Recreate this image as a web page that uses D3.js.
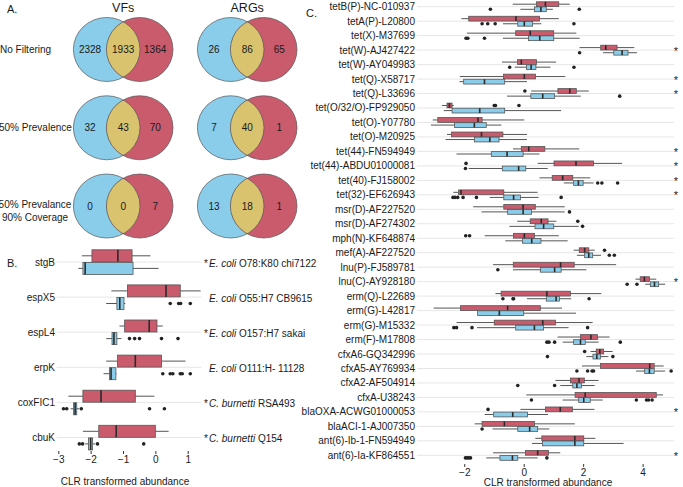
<!DOCTYPE html>
<html>
<head>
<meta charset="utf-8">
<script src="https://cdn.jsdelivr.net/npm/d3@7"></script>
<style>
body { margin: 0; background: #fff; }
text { font-family: "Liberation Sans", Arial, sans-serif; fill: #1a1a1a; }
</style>
</head>
<body>
<div id="chart"></div>
<script>
// ---- panel A: venn counts [left only, shared, right only]
const vennSets = ["VFs", "ARGs"];
const vennRowLabels = [["No Filtering"], ["50% Prevalence"], ["50% Prevalance", "90% Coverage"]];
const vfCounts = [[2328, 1933, 1364], [32, 43, 70], [0, 0, 7]];
const argCounts = [[26, 86, 65], [7, 40, 1], [13, 18, 1]];

// ---- panel B: virulence factors, stats = [lower whisker, q1, median, q3, upper whisker]
const vfGenes = ["stgB", "espX5", "espL4", "erpK", "coxFIC1", "cbuK"];
const vfSpecies = ["E. coli", "E. coli", "E. coli", "E. coli", "C. burnetti", "C. burnetti"];
const vfStrain = ["O78:K80 chi7122", "O55:H7 CB9615", "O157:H7 sakai", "O111:H- 11128", "RSA493", "Q154"];
const vfStar = [true, false, true, false, true, true];
const vfRed = [
  [-2.27, -1.96, -1.16, -0.72, -0.15],
  [-1.36, -0.86, 0.33, 0.77, 1.40],
  [-1.11, -0.95, -0.19, 0.05, 0.23],
  [-1.52, -1.17, -0.62, 0.19, 0.93],
  [-2.69, -2.24, -1.68, -0.62, -0.03],
  [-2.24, -1.75, -1.21, 0.00, 0.41]
];
const vfBlue = [
  [-2.38, -2.24, -2.17, -0.69, 0.10],
  [-1.52, -1.19, -1.10, -0.97, -0.93],
  [-1.52, -1.34, -1.28, -1.19, -1.05],
  [-1.60, -1.42, -1.37, -1.22, -1.20],
  [-2.62, -2.53, -2.48, -2.43, -2.36],
  [-2.17, -2.07, -2.00, -1.94, -1.86]
];
const vfRedOut = [[], [], [], [], [], []];
const vfBlueOut = [
  [],
  [0.46, 0.72, 0.78, 1.08],
  [-0.80, -0.64, -0.49, 0.19, 0.70],
  [0.23, 0.46, 0.54, 0.77, 0.83, 1.08],
  [-2.84, -2.74, -2.29, -0.18, 0.28],
  [-2.35, -2.25, -1.79, -0.36]
];
const vfTicks = [-3, -2, -1, 0, 1];

// ---- panel C: antibiotic resistance genes
const argGenes = ["tetB(P)-NC-010937", "tetA(P)-L20800", "tet(X)-M37699", "tet(W)-AJ427422",
  "tet(W)-AY049983", "tet(Q)-X58717", "tet(Q)-L33696", "tet(O/32/O)-FP929050", "tet(O)-Y07780",
  "tet(O)-M20925", "tet(44)-FN594949", "tet(44)-ABDU01000081", "tet(40)-FJ158002", "tet(32)-EF626943",
  "msr(D)-AF227520", "msr(D)-AF274302", "mph(N)-KF648874", "mef(A)-AF227520", "lnu(P)-FJ589781",
  "lnu(C)-AY928180", "erm(Q)-L22689", "erm(G)-L42817", "erm(G)-M15332", "erm(F)-M17808",
  "cfxA6-GQ342996", "cfxA5-AY769934", "cfxA2-AF504914", "cfxA-U38243", "blaOXA-ACWG01000053",
  "blaACI-1-AJ007350", "ant(6)-Ib-1-FN594949", "ant(6)-Ia-KF864551"];
const argRed = [
  [-0.37, 0.43, 0.73, 1.18, 1.55], [-2.10, -1.85, -0.26, 0.53, 1.18], [-1.91, -0.27, 0.22, 1.01, 1.77],
  [1.88, 2.59, 2.76, 3.14, 3.72], [-0.73, -0.21, -0.08, 0.43, 1.09], [-2.15, -0.68, 0.02, 0.40, 1.40],
  [0.25, 1.15, 1.55, 1.77, 2.19], [-2.75, -2.58, -2.50, -2.41, -2.35], [-3.06, -2.89, -1.54, -1.40, 0.02],
  [-2.58, -2.43, -1.42, -0.70, 0.11], [-0.36, -0.08, 0.17, 0.71, 1.87], [0.47, 1.02, 1.76, 2.35, 3.31],
  [0.53, 0.96, 1.31, 1.65, 2.24], [-2.37, -2.19, -2.11, -0.67, 0.47], [-1.70, -0.67, -0.02, 0.39, 1.38],
  [-0.22, 0.22, 0.59, 0.82, 1.10], [-1.31, -0.34, 0.02, 0.36, 1.18], [1.68, 1.87, 2.05, 2.19, 2.39],
  [-1.03, -0.35, 1.24, 1.70, 3.11], [3.76, 3.92, 4.06, 4.23, 4.46], [-0.95, -0.76, 0.78, 1.57, 2.61],
  [-3.03, -2.13, -0.54, 0.56, 1.29], [-2.26, -0.99, 0.64, 1.07, 2.32], [1.14, 1.91, 2.26, 2.48, 2.89],
  [2.25, 2.44, 2.56, 2.69, 2.99], [1.96, 2.58, 4.24, 4.39, 4.71], [1.07, 1.57, 1.86, 2.04, 2.52],
  [0.09, 1.73, 2.07, 4.46, 4.69], [-0.11, 0.73, 1.23, 1.64, 2.38], [-1.65, -1.40, -0.65, 0.36, 1.72],
  [0.39, 0.61, 1.72, 2.02, 2.41], [-1.03, 0.06, 0.47, 0.83, 1.23]
];
const argBlue = [
  [-0.11, 0.36, 0.58, 0.76, 0.98], [-0.70, -0.20, 0.02, 0.30, 0.59], [-0.70, 0.16, 0.54, 1.01, 1.88],
  [2.67, 3.03, 3.31, 3.51, 3.81], [-0.30, 0.09, 0.25, 0.41, 0.90], [-2.16, -2.02, -1.32, -0.64, 0.11],
  [-0.56, 0.24, 0.64, 1.04, 1.92], [-2.69, -2.41, -1.48, -0.64, 1.26], [-3.12, -2.33, -1.66, -1.26, -0.75],
  [-2.63, -1.66, -1.14, -0.83, 0.11], [-2.26, -1.09, -0.56, -0.02, 0.53], [-1.85, -0.72, -0.17, 0.07, 0.81],
  [1.35, 1.68, 1.84, 2.00, 2.35], [-1.14, -0.67, -0.34, -0.11, 0.50], [-1.42, -0.54, -0.02, 0.26, 1.38],
  [-0.48, 0.38, 0.67, 1.01, 1.85], [-0.62, -0.04, 0.27, 0.58, 1.48], [1.79, 2.05, 2.19, 2.32, 2.60],
  [-0.36, 0.56, 1.04, 1.26, 2.11], [4.09, 4.26, 4.40, 4.54, 4.76], [0.11, 0.76, 1.09, 1.20, 1.60],
  [-1.55, -1.55, -0.82, 0.00, 1.76], [-1.57, -0.27, 0.36, 0.67, 1.51], [1.31, 1.68, 1.91, 2.07, 2.52],
  [2.11, 2.33, 2.46, 2.58, 2.85], [3.78, 4.07, 4.23, 4.39, 4.76], [1.23, 1.65, 1.79, 1.94, 2.39],
  [1.31, 1.85, 2.02, 2.24, 2.66], [-1.31, -1.01, -0.37, 0.13, 0.82], [-1.05, -0.20, 0.20, 0.47, 0.86],
  [0.28, 0.63, 1.72, 2.02, 3.36], [-1.26, -0.80, -0.38, -0.20, 0.47]
];
const argRedOut = [[], [], [], [], [], [], [0.04], [-0.99, -0.95, -0.16], [], [], [], [-1.94], [], [],
  [], [1.82], [-1.95, -1.82], [2.72], [], [], [], [], [], [], [2.05], [], [], [], [-1.20], [], [], []];
const argBlueOut = [[-1.12, 1.87], [-1.40, -1.21, -0.96, 1.69], [-1.94, -1.88, -1.32], [1.88],
  [-0.47, 1.69], [], [3.23], [], [], [], [], [-1.96], [2.49, 2.63, 3.16],
  [-2.38, -2.31, -2.22, -2.04, -1.59, 1.26], [1.54], [1.98], [], [2.88, 3.05], [-0.87], [3.48, 3.81],
  [-0.70, -0.36, -0.34, 2.20], [], [-2.35, -2.26, -1.74, 2.15], [0.78, 0.85, 1.04, 3.25], [0.80, 3.00],
  [1.79, 2.15, 2.30, 2.35, 4.96], [-0.20, 1.04], [0.26, 3.79, 4.13, 4.20, 4.32], [], [-1.40], [],
  [-1.96, -1.91, -1.85, -1.79, 0.78]];
const argStarred = ["tet(W)-AJ427422", "tet(Q)-X58717", "tet(Q)-L33696", "tet(44)-FN594949",
  "tet(44)-ABDU01000081", "tet(40)-FJ158002", "tet(32)-EF626943", "lnu(C)-AY928180",
  "blaOXA-ACWG01000053", "ant(6)-Ia-KF864551"];
const argTicks = [-2, 0, 2, 4];

const RED = "#C95B6D", BLUE = "#89CDEB", YELLOW = "#D9C36F";

const svg = d3.select("#chart").append("svg")
  .attr("width", 683).attr("height", 487)
  .style("background", "#fff");

// ---------- A. venn diagrams
const vennX = d3.scalePoint().domain(vennSets).range([123.2, 247.2]);
const vennY = d3.scalePoint().domain([0, 1, 2]).range([49.5, 206]);
const rx = 33.3, ry = 32, half = 16.5;

svg.append("text").attr("x", 7).attr("y", 13).attr("font-size", 11).text("A.");
svg.selectAll(".vtitle").data(vennSets).enter().append("text")
  .attr("x", d => vennX(d)).attr("y", 12).attr("text-anchor", "middle")
  .attr("font-size", 12.5).text(d => d);

vennRowLabels.forEach((lines, r) => {
  const t = svg.append("text").attr("font-size", 10);
  if (lines.length === 1) {
    t.attr("x", r === 0 ? 0 : -1).attr("y", vennY(r)).attr("dy", "0.35em").text(lines[0]);
  } else {
    t.attr("text-anchor", "middle");
    lines.forEach((l, k) => t.append("tspan").attr("x", 35).attr("y", vennY(r) - 2 + k * 13.5)
      .attr("dy", "0.35em").text(l));
  }
});

const defs = svg.append("defs");
vennSets.forEach((set, c) => {
  const counts = c === 0 ? vfCounts : argCounts;
  counts.forEach((cnt, r) => {
    const cx1 = vennX(set) - half, cx2 = vennX(set) + half, cy = vennY(r);
    const id = "clip-" + c + "-" + r;
    defs.append("clipPath").attr("id", id).append("ellipse")
      .attr("cx", cx2).attr("cy", cy).attr("rx", rx).attr("ry", ry);
    const g = svg.append("g");
    g.append("ellipse").attr("cx", cx1).attr("cy", cy).attr("rx", rx).attr("ry", ry).attr("fill", BLUE);
    g.append("ellipse").attr("cx", cx2).attr("cy", cy).attr("rx", rx).attr("ry", ry).attr("fill", RED);
    g.append("ellipse").attr("cx", cx1).attr("cy", cy).attr("rx", rx).attr("ry", ry)
      .attr("fill", YELLOW).attr("clip-path", `url(#${id})`);
    [cx1, cx2].forEach(cx => g.append("ellipse").attr("cx", cx).attr("cy", cy)
      .attr("rx", rx).attr("ry", ry).attr("fill", "none").attr("stroke", "#555").attr("stroke-width", 0.7));
    const px = [vennX(set) - 33.2, vennX(set), vennX(set) + 32];
    g.selectAll("text").data(cnt).enter().append("text")
      .attr("x", (d, i) => px[i]).attr("y", cy).attr("dy", "0.35em")
      .attr("text-anchor", "middle").attr("font-size", 10).text(d => d);
  });
});

// ---------- shared boxplot drawing
function boxplot(g, xs, ys, genes, stats, outs, dy, h, fill) {
  const rows = genes.map((gene, i) => ({ gene, s: stats[i], o: outs[i] }));
  const grp = g.selectAll(null).data(rows).enter().append("g")
    .attr("transform", d => `translate(0,${ys(d.gene) + dy})`);
  grp.append("line").attr("x1", d => xs(d.s[0])).attr("x2", d => xs(d.s[1]))
    .attr("stroke", "#555").attr("stroke-width", 1);
  grp.append("line").attr("x1", d => xs(d.s[3])).attr("x2", d => xs(d.s[4]))
    .attr("stroke", "#555").attr("stroke-width", 1);
  grp.append("rect").attr("x", d => xs(d.s[1])).attr("y", -h / 2)
    .attr("width", d => Math.max(0.5, xs(d.s[3]) - xs(d.s[1]))).attr("height", h)
    .attr("fill", fill).attr("stroke", "#555").attr("stroke-width", 0.8);
  grp.append("line").attr("x1", d => xs(d.s[2])).attr("x2", d => xs(d.s[2]))
    .attr("y1", -h / 2).attr("y2", h / 2).attr("stroke", "#2a2a2a").attr("stroke-width", 1.6);
  grp.selectAll("circle").data(d => d.o).enter().append("circle")
    .attr("cx", v => xs(v)).attr("r", 1.8).attr("fill", "#222");
}

// ---------- B. virulence factors
const xB = d3.scaleLinear().domain([-3.05, 1.42]).range([56.7, 201.3]);
const yB = d3.scalePoint().domain(vfGenes).range([262, 437.5]);
const gB = svg.append("g");
svg.append("text").attr("x", 7).attr("y", 267).attr("font-size", 11).text("B.");

gB.selectAll(".grid").data(vfGenes).enter().append("line")
  .attr("x1", xB.range()[0]).attr("x2", xB.range()[1])
  .attr("y1", d => yB(d)).attr("y2", d => yB(d))
  .attr("stroke", "#e6e6e6").attr("stroke-width", 1);
boxplot(gB, xB, yB, vfGenes, vfRed, vfRedOut, -6.2, 12, RED);
boxplot(gB, xB, yB, vfGenes, vfBlue, vfBlueOut, 6.4, 12, BLUE);

gB.selectAll(".lab").data(vfGenes).enter().append("text")
  .attr("x", 55).attr("y", d => yB(d)).attr("dy", "0.35em").attr("text-anchor", "end")
  .attr("font-size", 10).text(d => d);
vfGenes.forEach((gene, i) => {
  const t = gB.append("text").attr("x", 204).attr("y", yB(gene) + 1).attr("dy", "0.35em").attr("font-size", 10);
  t.append("tspan").text(vfStar[i] ? "*" : "\u00a0");
  t.append("tspan").attr("x", 209).attr("font-style", "italic").text(vfSpecies[i]);
  t.append("tspan").text(" " + vfStrain[i]);
});

const axB = svg.append("g").attr("transform", "translate(0,451)")
  .call(d3.axisBottom(xB).tickValues(vfTicks).tickSize(3).tickPadding(2).tickFormat(d3.format("d")));
axB.select(".domain").remove();
axB.selectAll(".tick line").attr("stroke", "#333");
axB.selectAll(".tick text").attr("font-size", 10).attr("fill", "#333")
  .attr("font-family", "Liberation Sans, Arial, sans-serif");
svg.append("text").attr("x", 125).attr("y", 485).attr("text-anchor", "middle")
  .attr("font-size", 10).text("CLR transformed abundance");

// ---------- C. antibiotic resistance genes
const xC = d3.scaleLinear().domain([-3.59, 5.06]).range([417, 674.1]);
const yC = d3.scalePoint().domain(argGenes).range([6.7, 455.3]);
const gC = svg.append("g");
svg.append("text").attr("x", 306).attr("y", 17).attr("font-size", 11).text("C.");

gC.selectAll(".grid").data(argGenes).enter().append("line")
  .attr("x1", xC.range()[0]).attr("x2", xC.range()[1])
  .attr("y1", d => yC(d)).attr("y2", d => yC(d))
  .attr("stroke", "#e6e6e6").attr("stroke-width", 1);
boxplot(gC, xC, yC, argGenes, argRed, argRedOut, -2.5, 4.8, RED);
boxplot(gC, xC, yC, argGenes, argBlue, argBlueOut, 2.6, 4.8, BLUE);

gC.selectAll(".lab").data(argGenes).enter().append("text")
  .attr("x", 415).attr("y", d => yC(d)).attr("dy", "0.35em").attr("text-anchor", "end")
  .attr("font-size", 10).text(d => d);
gC.selectAll(".star").data(argStarred).enter().append("text")
  .attr("x", 676).attr("y", d => yC(d) + 4.5).attr("text-anchor", "middle")
  .attr("font-size", 11).text("*");

const axC = svg.append("g").attr("transform", "translate(0,464)")
  .call(d3.axisBottom(xC).tickValues(argTicks).tickSize(3).tickPadding(2).tickFormat(d3.format("d")));
axC.select(".domain").remove();
axC.selectAll(".tick line").attr("stroke", "#333");
axC.selectAll(".tick text").attr("font-size", 10).attr("fill", "#333")
  .attr("font-family", "Liberation Sans, Arial, sans-serif");
svg.append("text").attr("x", 548).attr("y", 486).attr("text-anchor", "middle")
  .attr("font-size", 10).text("CLR transformed abundance");
</script>
</body>
</html>
